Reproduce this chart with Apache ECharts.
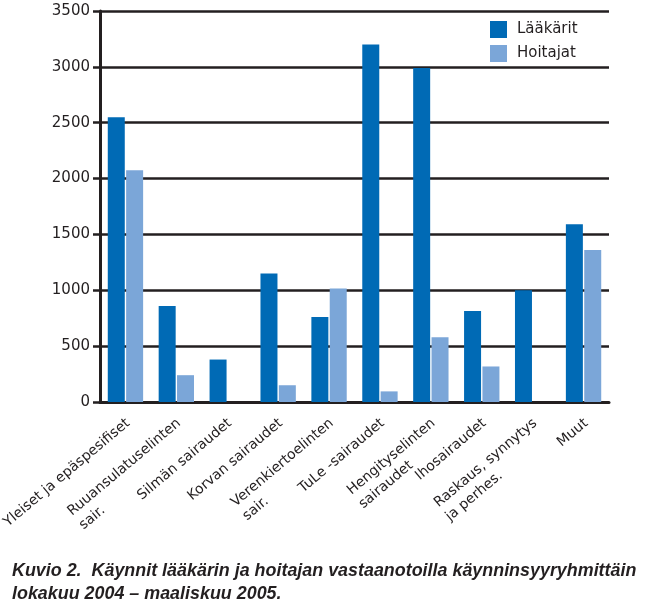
<!DOCTYPE html>
<html>
<head>
<meta charset="utf-8">
<script src="https://cdn.jsdelivr.net/npm/echarts@6/dist/echarts.min.js"></script>
<style>
html,body{margin:0;padding:0;background:#fff;}
#chart{width:646px;height:610px;}
</style>
</head>
<body>
<div id="chart"></div>
<script>
var categories = ["Yleiset ja epäspesifiset", "Ruuansulatuselinten\nsair.", "Silmän sairaudet", "Korvan sairaudet", "Verenkiertoelinten\nsair.", "TuLe -sairaudet", "Hengityselinten\nsairaudet", "Ihosairaudet", "Raskaus, synnytys\nja perhes.", "Muut"];
var laakarit = [2550, 860, 380, 1150, 760, 3200, 2990, 815, 1000, 1590];
var hoitajat = [2075, 240, 0, 150, 1015, 95, 580, 318, 0, 1360];
var seriesNames = ["Lääkärit", "Hoitajat"];
var captionLines = ["Kuvio 2.  Käynnit lääkärin ja hoitajan vastaanotoilla käynninsyyryhmittäin", "lokakuu 2004 – maaliskuu 2005."];

var ink = '#231F20';
var chart = echarts.init(document.getElementById('chart'), null, {renderer: 'canvas'});
chart.setOption({
  animation: false,
  backgroundColor: '#fff',
  title: {
    text: captionLines.join('\n'),
    left: 12, top: 560, padding: 0,
    textStyle: {fontFamily: 'Liberation Sans', fontStyle: 'italic', fontWeight: 'bold', fontSize: 17.9, color: ink, lineHeight: 23}
  },
  legend: {
    orient: 'vertical', left: 490, top: 21, padding: 0,
    itemWidth: 17, itemHeight: 17, itemGap: 7,
    icon: 'rect',
    textStyle: {fontFamily: 'DejaVu Sans', fontSize: 15, color: ink, padding: [4, 0, 0, 5]},
    data: seriesNames
  },
  grid: {left: 100, right: 37, top: 11, bottom: 208, containLabel: false, outerBoundsMode: 'none'},
  xAxis: {
    type: 'category', data: categories,
    axisLine: {lineStyle: {color: ink, width: 3}},
    axisTick: {show: false},
    axisLabel: {
      interval: 0, rotate: 40, margin: 10, verticalAlign: 'top',
      formatter: function (v) { return v.split('\n').map(function (s) { return '{a|' + s + '}'; }).join('\n'); },
      rich: {a: {align: 'left', fontFamily: 'DejaVu Sans', fontSize: 14, color: ink, lineHeight: 18, padding: [0, 4, 0, 0]}}
    }
  },
  yAxis: {
    type: 'value', min: 0, max: 3500, interval: 500,
    axisLine: {show: true, lineStyle: {color: ink, width: 3}},
    axisTick: {show: true, length: 7, lineStyle: {color: ink, width: 2.5}},
    axisLabel: {fontFamily: 'DejaVu Sans', fontSize: 15, color: ink, margin: 10, formatter: function (v) { return String(v); }},
    splitLine: {show: true, lineStyle: {color: ink, width: 2.5}}
  },
  series: [
    {name: seriesNames[0], type: 'bar', data: laakarit, barWidth: 17, barGap: '8%', itemStyle: {color: '#006AB5'}},
    {name: seriesNames[1], type: 'bar', data: hoitajat, barWidth: 17, itemStyle: {color: '#7BA6D8'}}
  ]
});
</script>
</body>
</html>
